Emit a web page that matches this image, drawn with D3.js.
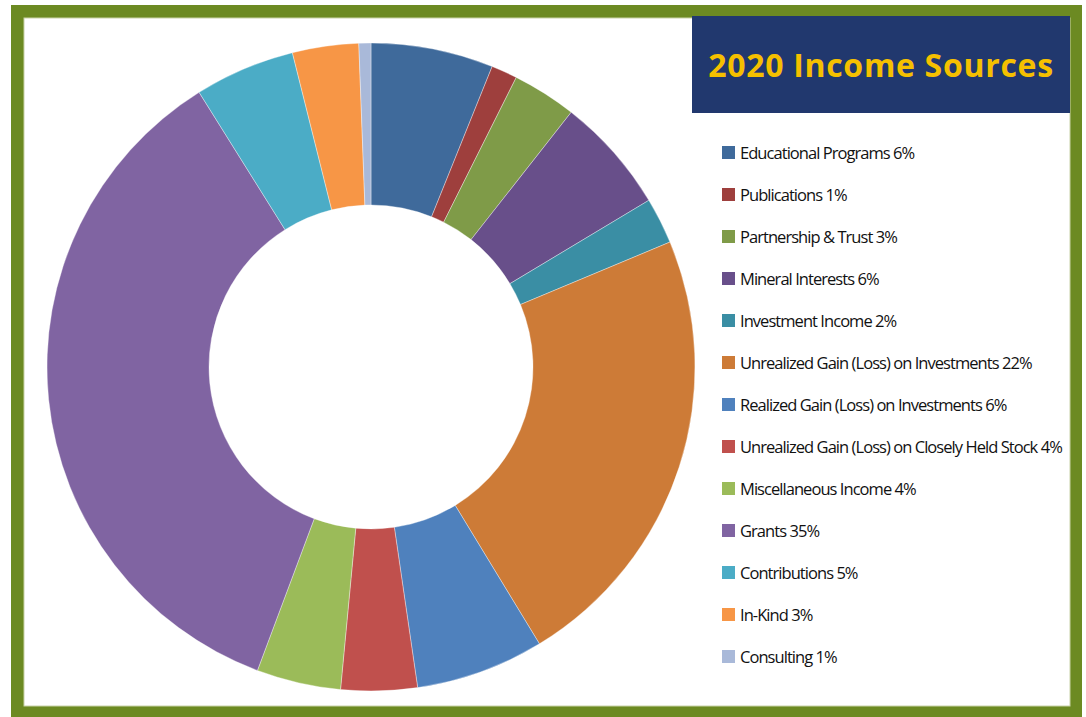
<!DOCTYPE html>
<html>
<head>
<meta charset="utf-8">
<script src="https://cdn.jsdelivr.net/npm/d3@7"></script>
<style>
  html, body { margin: 0; padding: 0; background: #ffffff; }
  svg { display: block; }
</style>
</head>
<body>
<svg id="chart" width="1086" height="717"></svg>
<script>
// ---- data ----
const categories = [
  "Educational Programs", "Publications", "Partnership & Trust", "Mineral Interests",
  "Investment Income", "Unrealized Gain (Loss) on Investments", "Realized Gain (Loss) on Investments",
  "Unrealized Gain (Loss) on Closely Held Stock", "Miscellaneous Income", "Grants",
  "Contributions", "In-Kind", "Consulting"
];
const values = [6.1, 1.3, 3.2, 5.8, 2.3, 22.6, 6.4, 3.8, 4.2, 35.4, 5.0, 3.3, 0.6];
const pctLabels = ["6%", "1%", "3%", "6%", "2%", "22%", "6%", "4%", "4%", "35%", "5%", "3%", "1%"];
const colors = [
  "#3f6a9b", "#9e3f3d", "#7f9b48", "#684f8a", "#3a8ea4", "#cd7b37",
  "#4f81bd", "#c0504d", "#9bbb59", "#8064a2", "#4bacc6", "#f79646", "#a9b9d9"
];
const title = "2020 Income Sources";

// ---- drawing ----
const svg = d3.select("#chart");

// frame
svg.append("rect").attr("x", 11).attr("y", 5).attr("width", 1071).attr("height", 712).attr("fill", "#6c8a22");
svg.append("rect").attr("x", 24).attr("y", 18).attr("width", 1046).attr("height", 688).attr("fill", "#ffffff")
  .attr("stroke", "#c9d3a8").attr("stroke-width", 1);

// donut
const cx = 371, cy = 367, rOuter = 324, rInner = 162;
const pie = d3.pie().sort(null).value(d => d.v).startAngle(0).endAngle(2 * Math.PI);
const arc = d3.arc().innerRadius(rInner).outerRadius(rOuter);
const data = categories.map((c, i) => ({ c, v: values[i] }));
const color = d3.scaleOrdinal().domain(categories).range(colors);

svg.append("g").attr("transform", `translate(${cx},${cy})`)
  .selectAll("path").data(pie(data)).join("path")
  .attr("d", arc)
  .attr("fill", d => color(d.data.c))
  .attr("stroke", "#ffffff").attr("stroke-width", 0.6).attr("stroke-opacity", 0.6);

// title box
svg.append("rect").attr("x", 692).attr("y", 16).attr("width", 378).attr("height", 97).attr("fill", "#21386e");
svg.append("text").attr("x", 881).attr("y", 77).attr("text-anchor", "middle")
  .attr("font-family", "'Open Sans', 'Noto Sans', sans-serif").attr("font-weight", 700)
  .attr("font-size", 32).attr("letter-spacing", 0.7).attr("fill", "#f5c000").text(title);

// legend
const legendY = d3.scalePoint().domain(categories).range([152.5, 656.5]);
const lg = svg.append("g");
const rows = lg.selectAll("g").data(categories).join("g")
  .attr("transform", d => `translate(722,${legendY(d)})`);
rows.append("rect").attr("x", 0).attr("y", -6.5).attr("width", 13).attr("height", 13)
  .attr("fill", d => color(d));
rows.append("text").attr("x", 18).attr("y", 6)
  .attr("font-family", "'Open Sans', 'Noto Sans', sans-serif")
  .attr("font-size", 16.5).attr("letter-spacing", -0.95).attr("fill", "#111111")
  .text((d, i) => d + " " + pctLabels[i]);
</script>
</body>
</html>
